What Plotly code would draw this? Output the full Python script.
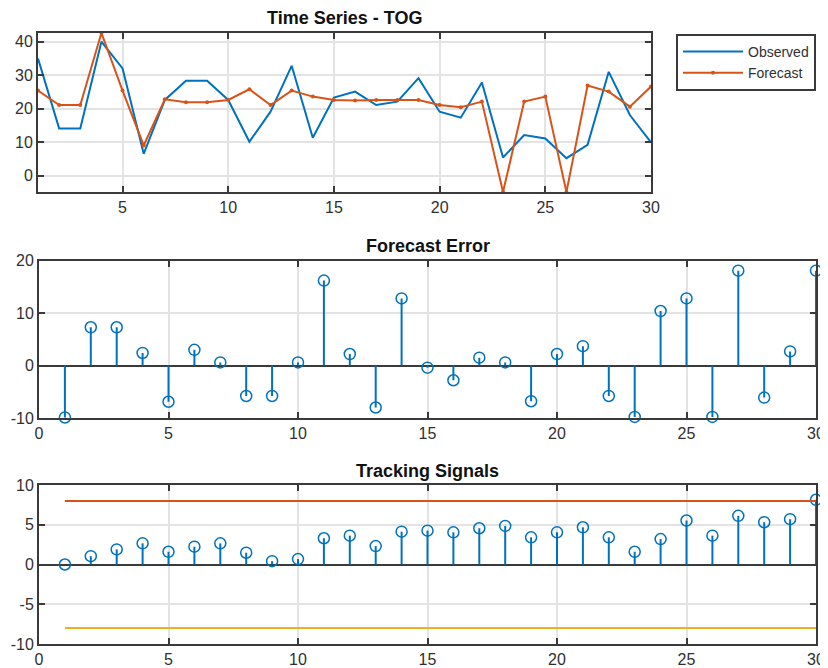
import plotly.graph_objects as go

# ---------------- data ----------------
periods = list(range(1, 31))
observed = [35.0, 14.1, 14.1, 40.0, 32.0, 6.5, 22.6, 28.3, 28.3, 22.6,
            10.1, 19.1, 32.8, 11.3, 23.3, 25.1, 21.1, 22.1, 29.1, 19.1,
            17.3, 27.8, 5.4, 12.1, 11.1, 5.2, 9.2, 31.0, 18.1, 9.9]
forecast = [25.4, 21.1, 21.1, 42.6, 25.4, 9.0, 22.8, 21.9, 21.9, 22.6,
            25.8, 21.1, 25.4, 23.6, 22.6, 22.4, 22.6, 22.6, 22.6, 21.1,
            20.4, 22.1, -4.9, 22.1, 23.6, -4.9, 26.9, 25.1, 20.6, 26.6]
forecast_error = [-9.9, 7.3, 7.3, 2.4, -6.9, 3.0, 0.6, -5.8, -5.8, 0.6,
                  16.2, 2.2, -8.0, 12.8, -0.4, -2.8, 1.5, 0.6, -6.8, 2.2,
                  3.7, -5.8, -9.8, 10.4, 12.8, -9.8, 18.1, -6.1, 2.7, 18.1]
tracking_signal = [0.0, 1.05, 1.9, 2.66, 1.6, 2.24, 2.66, 1.48, 0.42, 0.68,
                   3.3, 3.63, 2.32, 4.13, 4.26, 4.05, 4.56, 4.85, 3.42, 4.05,
                   4.68, 3.42, 1.6, 3.2, 5.53, 3.63, 6.12, 5.32, 5.7, 8.14]
upper_limit = 8
lower_limit = -8

x_ticks_top = [5, 10, 15, 20, 25, 30]
x_ticks = [0, 5, 10, 15, 20, 25, 30]
y_ticks_top = [0, 10, 20, 30, 40]
y_ticks_err = [-10, 0, 10, 20]
y_ticks_ts = [-10, -5, 0, 5, 10]

titles = ["Time Series - TOG", "Forecast Error", "Tracking Signals"]

# ---------------- style ----------------
BLUE = "#0072BD"
ORANGE = "#D95319"
YELLOW = "#EDB120"
AX = "#3a3a3a"
GRID = "#e3e3e3"
TXT = "#303030"
FONT = "Liberation Sans, Arial, sans-serif"
PAGE_W, PAGE_H = 828, 668
OFF = 8  # default body margin of the html page
W, H = PAGE_W - OFF, PAGE_H - OFF


def px_x(p):
    return (p - OFF) / W


def px_y(p):
    return 1 - (p - OFF) / H


dom_top_x = [px_x(38), px_x(651)]
dom_top_y = [px_y(192), px_y(33)]
dom_mid_x = [px_x(39), px_x(816)]
dom_mid_y = [px_y(418), px_y(260.7)]
dom_bot_x = [px_x(39), px_x(816)]
dom_bot_y = [px_y(644), px_y(485)]


def stem_xy(xs, ys):
    sx, sy = [], []
    for xv, yv in zip(xs, ys):
        sx += [xv, xv, None]
        sy += [0, yv, None]
    return sx, sy


fig = go.Figure()

# top: time series
fig.add_trace(go.Scatter(x=periods, y=observed, mode="lines", name="Observed",
                         line=dict(color=BLUE, width=2), xaxis="x", yaxis="y"))
fig.add_trace(go.Scatter(x=periods, y=forecast, mode="lines+markers", name="Forecast",
                         line=dict(color=ORANGE, width=2),
                         marker=dict(color=ORANGE, size=4),
                         xaxis="x", yaxis="y"))

# middle: forecast error stems
sx, sy = stem_xy(periods, forecast_error)
fig.add_trace(go.Scatter(x=sx, y=sy, mode="lines", line=dict(color=BLUE, width=2),
                         showlegend=False, xaxis="x2", yaxis="y2"))
fig.add_trace(go.Scatter(x=periods, y=forecast_error, mode="markers",
                         marker=dict(symbol="circle-open", size=11, color=BLUE,
                                     line=dict(width=1.5, color=BLUE)),
                         cliponaxis=False, showlegend=False, xaxis="x2", yaxis="y2"))

# bottom: tracking signal stems
sx, sy = stem_xy(periods, tracking_signal)
fig.add_trace(go.Scatter(x=sx, y=sy, mode="lines", line=dict(color=BLUE, width=2),
                         showlegend=False, xaxis="x3", yaxis="y3"))
fig.add_trace(go.Scatter(x=periods, y=tracking_signal, mode="markers",
                         marker=dict(symbol="circle-open", size=11, color=BLUE,
                                     line=dict(width=1.5, color=BLUE)),
                         cliponaxis=False, showlegend=False, xaxis="x3", yaxis="y3"))
fig.add_trace(go.Scatter(x=[periods[0], periods[-1]], y=[upper_limit, upper_limit],
                         mode="lines", line=dict(color=ORANGE, width=2),
                         showlegend=False, xaxis="x3", yaxis="y3"))
fig.add_trace(go.Scatter(x=[periods[0], periods[-1]], y=[lower_limit, lower_limit],
                         mode="lines", line=dict(color=YELLOW, width=2),
                         showlegend=False, xaxis="x3", yaxis="y3"))


def axis_common(**kw):
    d = dict(showline=True, linecolor=AX, linewidth=2, mirror="ticks",
             ticks="inside", ticklen=6, tickwidth=2, tickcolor=AX,
             showgrid=True, gridcolor=GRID, gridwidth=1.5,
             zeroline=False, automargin=False,
             tickfont=dict(family=FONT, size=16, color=TXT),
             tickmode="array")
    d.update(kw)
    return d


ymin_top = min(min(observed), min(forecast))
ymax_top = max(max(observed), max(forecast))

fig.update_layout(
    width=W, height=H,
    margin=dict(l=0, r=0, t=0, b=0),
    paper_bgcolor="white", plot_bgcolor="white",
    template="none",
    font=dict(family=FONT, color=TXT),
    xaxis=axis_common(domain=dom_top_x, anchor="y", range=[periods[0], periods[-1]],
                      tickvals=x_ticks_top, ticktext=[str(v) for v in x_ticks_top]),
    yaxis=axis_common(domain=dom_top_y, anchor="x", range=[ymin_top, ymax_top],
                      tickvals=y_ticks_top, ticktext=[str(v) for v in y_ticks_top]),
    xaxis2=axis_common(domain=dom_mid_x, anchor="y2", range=[0, 30],
                       tickvals=x_ticks, ticktext=[str(v) for v in x_ticks]),
    yaxis2=axis_common(domain=dom_mid_y, anchor="x2", range=[-10, 20],
                       tickvals=y_ticks_err, ticktext=[str(v) for v in y_ticks_err],
                       zeroline=True, zerolinecolor=AX, zerolinewidth=2),
    xaxis3=axis_common(domain=dom_bot_x, anchor="y3", range=[0, 30],
                       tickvals=x_ticks, ticktext=[str(v) for v in x_ticks]),
    yaxis3=axis_common(domain=dom_bot_y, anchor="x3", range=[-10, 10],
                       tickvals=y_ticks_ts, ticktext=[str(v) for v in y_ticks_ts],
                       zeroline=True, zerolinecolor=AX, zerolinewidth=2),
    legend=dict(x=px_x(676), y=px_y(34), xanchor="left", yanchor="top",
                bgcolor="white", bordercolor=AX, borderwidth=2,
                font=dict(family=FONT, size=14, color=TXT),
                itemwidth=60, tracegroupgap=0),
    showlegend=True,
)

doms = [(dom_top_x, dom_top_y, 3), (dom_mid_x, dom_mid_y, 3), (dom_bot_x, dom_bot_y, 2)]
for t, (dx, dy, shift) in zip(titles, doms):
    fig.add_annotation(text="<b>" + t + "</b>", xref="paper", yref="paper",
                       x=(dx[0] + dx[1]) / 2, y=dy[1], xanchor="center", yanchor="bottom",
                       yshift=shift, showarrow=False,
                       font=dict(family=FONT, size=18, color="#111111"))

fig.write_html("out.html")
